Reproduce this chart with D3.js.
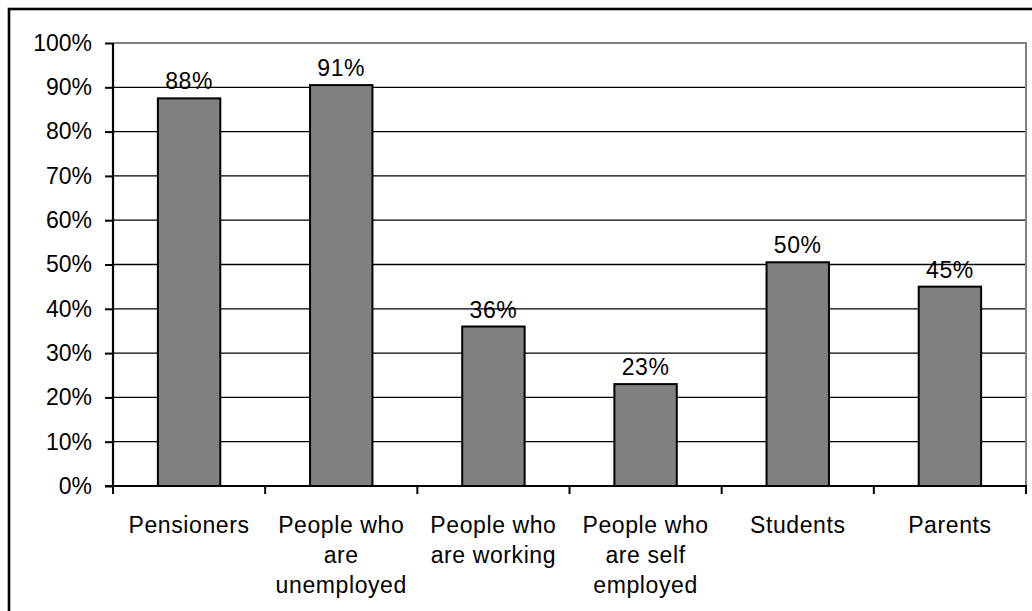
<!DOCTYPE html>
<html>
<head>
<meta charset="utf-8">
<script src="https://cdn.jsdelivr.net/npm/d3@7"></script>
<style>
  html, body { margin: 0; padding: 0; background: #fff; }
  svg { display: block; }
  text { font-family: "Liberation Sans", Arial, sans-serif; fill: #000; }
</style>
</head>
<body>
<svg id="chart" width="1032" height="611"></svg>
<script>
// ---- data ----
const categories = [
  "Pensioners",
  "People who\nare\nunemployed",
  "People who\nare working",
  "People who\nare self\nemployed",
  "Students",
  "Parents"
];
const values = [87.5, 90.5, 36, 23, 50.5, 45];
const valueLabels = ["88%", "91%", "36%", "23%", "50%", "45%"];
const yTicks = [0, 10, 20, 30, 40, 50, 60, 70, 80, 90, 100];

// ---- layout ----
const W = 1032, H = 611;
const plot = { left: 113, right: 1026, top: 43, bottom: 486 };
const fontSize = 23;

const svg = d3.select("#chart");

// outer frame (left & top edges visible, rest cropped)
svg.append("rect")
  .attr("x", 9).attr("y", 9)
  .attr("width", 1200).attr("height", 1000)
  .attr("fill", "none").attr("stroke", "#000").attr("stroke-width", 2.6);

const x = d3.scaleBand().domain(categories).range([plot.left, plot.right]).paddingInner(0).paddingOuter(0);
const y = d3.scaleLinear().domain([0, 100]).range([plot.bottom, plot.top]);

// gridlines
svg.append("g").selectAll("line")
  .data(yTicks.filter(t => t > 0 && t < 100))
  .join("line")
  .attr("x1", plot.left).attr("x2", plot.right)
  .attr("y1", d => y(d)).attr("y2", d => y(d))
  .attr("stroke", "#000").attr("stroke-width", 1.3);

// plot area gray border (top & right)
svg.append("path")
  .attr("d", `M${plot.left},${y(100)}H${plot.right}V${plot.bottom}`)
  .attr("fill", "none").attr("stroke", "#808080").attr("stroke-width", 2);

// bars
const barFrac = 0.41;
const bw = x.bandwidth() * barFrac;
svg.append("g").selectAll("rect")
  .data(categories)
  .join("rect")
  .attr("x", (d) => x(d) + (x.bandwidth() - bw) / 2)
  .attr("width", bw)
  .attr("y", (d, i) => y(values[i]))
  .attr("height", (d, i) => y(0) - y(values[i]))
  .attr("fill", "#808080").attr("stroke", "#000").attr("stroke-width", 2);

// value labels
svg.append("g").selectAll("text")
  .data(categories)
  .join("text")
  .attr("x", d => x(d) + x.bandwidth() / 2)
  .attr("y", (d, i) => y(values[i]) - 9)
  .attr("text-anchor", "middle")
  .attr("font-size", fontSize)
  .attr("letter-spacing", 0.6)
  .text((d, i) => valueLabels[i]);

// y axis
const yAxis = d3.axisLeft(y).tickValues(yTicks).tickFormat(d => d + "%").tickSize(8).tickPadding(13);
const gy = svg.append("g").attr("transform", `translate(${plot.left},0)`).call(yAxis);
gy.select(".domain").remove();
gy.selectAll(".tick line").attr("stroke", "#000").attr("stroke-width", 2);
gy.selectAll(".tick text").attr("font-size", fontSize).attr("font-family", "Liberation Sans, Arial, sans-serif").attr("fill", "#000");
svg.append("line")
  .attr("x1", plot.left).attr("x2", plot.left)
  .attr("y1", plot.top).attr("y2", plot.bottom + 1)
  .attr("stroke", "#000").attr("stroke-width", 2.2);

// x axis: ticks at category boundaries
const boundaries = categories.map(c => x(c)).concat([plot.right]);
svg.append("line")
  .attr("x1", plot.left - 8).attr("x2", plot.right + 1)
  .attr("y1", plot.bottom).attr("y2", plot.bottom)
  .attr("stroke", "#000").attr("stroke-width", 2.2);
svg.append("g").selectAll("line")
  .data(boundaries)
  .join("line")
  .attr("x1", d => d).attr("x2", d => d)
  .attr("y1", plot.bottom).attr("y2", plot.bottom + 8)
  .attr("stroke", "#000").attr("stroke-width", 2);

// category labels
const lineH = 30;
const firstBaseline = 533;
const catG = svg.append("g").selectAll("text")
  .data(categories)
  .join("text")
  .attr("text-anchor", "middle")
  .attr("font-size", fontSize)
  .attr("letter-spacing", 0.6);
catG.each(function(d) {
  const t = d3.select(this);
  const cx = x(d) + x.bandwidth() / 2;
  d.split("\n").forEach((line, i) => {
    t.append("tspan").attr("x", cx).attr("y", firstBaseline + i * lineH).text(line);
  });
});
</script>
</body>
</html>
